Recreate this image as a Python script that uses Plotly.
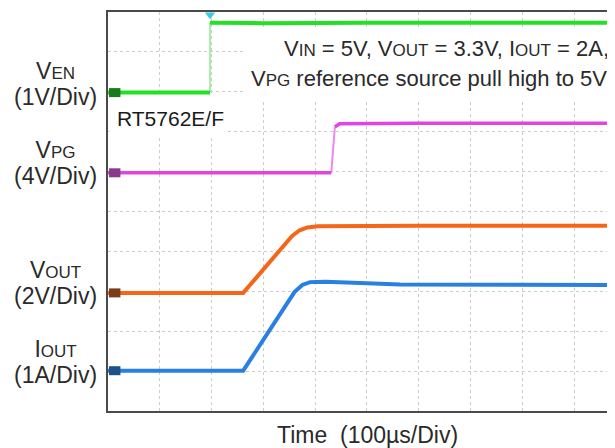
import plotly.graph_objects as go

# time in divisions (100us/div), levels in screen divisions from bottom
en_low_t = [0, 1.97]
en_low_v = [7.98, 7.98]
en_edge_t = [1.97, 1.97]
en_edge_v = [7.98, 9.73]
en_high_t = [1.97, 3.0, 5.0, 7.0, 9.9]
en_high_v = [9.73, 9.72, 9.73, 9.73, 9.73]

pg_low_t = [0, 4.31]
pg_low_v = [5.97, 5.97]
pg_edge_t = [4.31, 4.38]
pg_edge_v = [5.97, 7.12]
pg_high_t = [4.38, 4.47, 6.0, 8.0, 9.9]
pg_high_v = [7.12, 7.2, 7.21, 7.21, 7.21]

vout_t = [0, 2.61, 3.55, 3.7, 3.85, 4.05, 6.0, 9.9]
vout_v = [2.96, 2.96, 4.38, 4.53, 4.6, 4.63, 4.64, 4.64]

iout_t = [0, 2.61, 3.6, 3.75, 3.9, 4.2, 5.0, 5.64, 9.9]
iout_v = [1.01, 1.01, 2.98, 3.16, 3.23, 3.24, 3.2, 3.17, 3.16]

label_main = ["V", "V", "V", "I"]
label_sub = ["EN", "PG", "OUT", "OUT"]
label_scales = ["(1V/Div)", "(4V/Div)", "(2V/Div)", "(1A/Div)"]
label_y = [8.20, 6.205, 3.20, 1.235]

note_line1 = ("V<span style='font-size:17px'>IN</span> = 5V, "
              "V<span style='font-size:17px'>OUT</span> = 3.3V, "
              "I<span style='font-size:17px'>OUT</span> = 2A,")
note_line2 = "V<span style='font-size:17px'>PG</span> reference source pull high to 5V"

GREEN = "#22e022"
MAGENTA = "#e244e2"
ORANGE = "#f5661b"
BLUE = "#2a80e2"
FONT = "Liberation Sans, Arial, sans-serif"
TXT = "#2a2a2a"

fig = go.Figure()

# waveforms
fig.add_trace(go.Scatter(x=en_edge_t, y=en_edge_v, mode="lines",
                         line=dict(color="#8ee88e", width=1.5)))
fig.add_trace(go.Scatter(x=en_low_t, y=en_low_v, mode="lines",
                         line=dict(color=GREEN, width=4)))
fig.add_trace(go.Scatter(x=en_high_t, y=en_high_v, mode="lines",
                         line=dict(color=GREEN, width=4)))

fig.add_trace(go.Scatter(x=pg_edge_t, y=pg_edge_v, mode="lines",
                         line=dict(color="#ee88ee", width=2)))
fig.add_trace(go.Scatter(x=pg_low_t, y=pg_low_v, mode="lines",
                         line=dict(color=MAGENTA, width=3.5)))
fig.add_trace(go.Scatter(x=pg_high_t, y=pg_high_v, mode="lines",
                         line=dict(color=MAGENTA, width=3.5)))

fig.add_trace(go.Scatter(x=vout_t, y=vout_v, mode="lines",
                         line=dict(color=ORANGE, width=4)))
fig.add_trace(go.Scatter(x=iout_t, y=iout_v, mode="lines",
                         line=dict(color=BLUE, width=4)))

# channel tags at the left edge
tag_colors = ["#1a7a1a", "#8a3a8a", "#7a3b1a", "#1d5286"]
tag_levels = [en_low_v[0], pg_low_v[0], vout_v[0], iout_v[0]]
for c, lv in zip(tag_colors, tag_levels):
    fig.add_trace(go.Scatter(x=[0.02, 0.24], y=[lv, lv], mode="lines",
                             line=dict(color=c, width=9)))

# trigger markers
fig.add_trace(go.Scatter(x=[en_edge_t[0]], y=[9.93], mode="markers",
                         marker=dict(symbol="triangle-down", size=9, color="#3cc8e6"),
                         cliponaxis=False))
fig.add_trace(go.Scatter(x=[9.79], y=[9.23], mode="markers",
                         marker=dict(symbol="diamond", size=9, color="#3a9a9a"),
                         cliponaxis=False))

# white boxes behind the notes
fig.add_shape(type="rect", xref="x", yref="y", x0=2.61, x1=9.9, y0=7.79, y1=9.55,
              fillcolor="white", line_width=0, layer="between")
fig.add_shape(type="rect", xref="x", yref="y", x0=0.03, x1=2.26, y0=6.9, y1=7.93,
              fillcolor="white", line_width=0, layer="between")

fig.add_annotation(x=6.535, y=9.09, xref="x", yref="y", text=note_line1,
                   xanchor="center", yanchor="middle", showarrow=False,
                   font=dict(family=FONT, size=22, color=TXT))
fig.add_annotation(x=6.19, y=8.33, xref="x", yref="y", text=note_line2,
                   xanchor="center", yanchor="middle", showarrow=False,
                   font=dict(family=FONT, size=22, color=TXT))
fig.add_annotation(x=1.216, y=7.33, xref="x", yref="y", text="RT5762E/F",
                   xanchor="center", yanchor="middle", showarrow=False,
                   font=dict(family=FONT, size=21, color="#1a1a1a"))

# channel labels left of the screen; base size 20 sets the tight line pitch
for main, sub, scale, yl in zip(label_main, label_sub, label_scales, label_y):
    txt = ("<span style='font-size:23px'>%s</span><span style='font-size:17px'>%s</span>"
           "<br><span style='font-size:23px'>%s</span>" % (main, sub, scale))
    fig.add_annotation(x=-0.1045, y=yl / 10, xref="paper", yref="paper", text=txt,
                       xanchor="center", yanchor="middle", showarrow=False,
                       font=dict(family=FONT, size=20, color=TXT))

fig.add_annotation(x=0.511, y=-0.06, xref="paper", yref="paper",
                   text="Time  (100\u00b5s/Div)", xanchor="center", yanchor="middle",
                   showarrow=False, font=dict(family=FONT, size=23, color=TXT))

fig.update_xaxes(range=[0, 9.788], dtick=1, showgrid=True, gridcolor="#cccccc",
                 griddash="dot", gridwidth=1, zeroline=False, showticklabels=False,
                 ticks="", showline=True, linecolor="#4a4a4a", linewidth=2, mirror=True)
fig.update_yaxes(range=[0, 10], dtick=1, showgrid=True, gridcolor="#cccccc",
                 griddash="dot", gridwidth=1, zeroline=False, showticklabels=False,
                 ticks="", showline=True, linecolor="#4a4a4a", linewidth=2)

# page body adds an 8px margin, so the figure is 8px smaller and shifted
fig.update_layout(
    width=607,
    height=440,
    margin=dict(l=100, r=0, t=4, b=37, pad=0),
    plot_bgcolor="white",
    paper_bgcolor="white",
    showlegend=False,
    font=dict(family=FONT),
)

fig.write_html("out.html")
